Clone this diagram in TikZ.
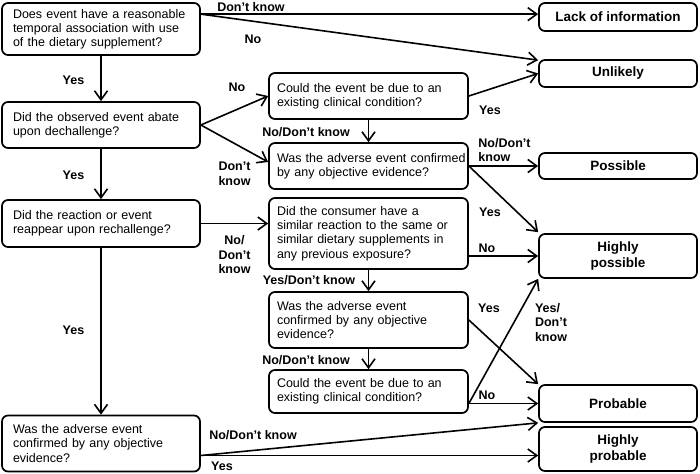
\documentclass[tikz,border=0pt]{standalone}
\usepackage{fontspec}
\setmainfont{Liberation Sans}
\usetikzlibrary{arrows.meta,calc}
\begin{document}
\begin{tikzpicture}[x=1pt,y=-1pt,
  box/.style={draw, line width=1.7pt, rounded corners=6pt, inner xsep=0pt, inner ysep=0pt,
    font=\fontsize{12.5}{14.2}\selectfont, align=left},
  lbox/.style={box, minimum width=198pt, text width=176pt},
  mbox/.style={box, minimum width=199pt, text width=183pt},
  rbox/.style={box, minimum width=158pt, align=center, font=\fontsize{13.5}{16.5}\selectfont\bfseries},
  lab/.style={font=\fontsize{12.5}{14.5}\selectfont\bfseries, inner sep=0pt, align=center},
  labl/.style={lab, align=left},
  arr/.style={line width=1.6pt, -{Straight Barb[length=9pt,width=13pt,line width=1.6pt]}}
]
\useasboundingbox (0,0) rectangle (700,473);

% left column
\node[lbox, minimum height=52pt] (L1) at (101,29) {Does event have a reasonable\\temporal association with use\\of the dietary supplement?};
\node[lbox, minimum height=46pt] (L2) at (101,125) {Did the observed event abate\\upon dechallenge?};
\node[lbox, minimum height=47pt] (L3) at (101,223.5) {Did the reaction or event\\reappear upon rechallenge?};
\node[lbox, minimum height=56pt] (L4) at (101,443.5) {Was the adverse event\\confirmed by any objective\\evidence?};

% middle column
\node[mbox, minimum height=46pt] (M1) at (368.5,96) {Could the event be due to an\\existing clinical condition?};
\node[mbox, minimum height=46pt] (M2) at (368.5,166) {\mbox{Was the adverse event confirmed}\\by any objective evidence?};
\node[mbox, minimum height=71pt] (M3) at (368.5,233.5) {Did the consumer have a\\similar reaction to the same or\\similar dietary supplements in\\any previous exposure?};
\node[mbox, minimum height=56pt] (M4) at (368.5,320) {Was the adverse event\\confirmed by any objective\\evidence?};
\node[mbox, minimum height=43pt] (M5) at (368.5,391.5) {Could the event be due to an\\existing clinical condition?};

% right column
\node[rbox, minimum height=28pt] (R1) at (618,17) {Lack of information};
\node[rbox, minimum height=27pt] (R2) at (618,73.5) {Unlikely};
\node[rbox, minimum height=26pt] (R3) at (618,166) {Possible};
\node[rbox, minimum height=44pt] (R4) at (618,256) {Highly\\possible};
\node[rbox, minimum height=37pt] (R5) at (618,403.5) {Probable};
\node[rbox, minimum height=44pt] (R6) at (618,449) {Highly\\probable};

% connectors
\coordinate (a1) at ([yshift=-12pt]L1.north east);
\draw[arr] (a1) -- (a1 -| R1.west);
\draw[arr] (a1) -- ([yshift=-1pt]R2.north west);
\draw[arr] (L1.south) -- (L2.north);

\draw[arr] (L2.east) -- (M1.west);
\draw[arr] (L2.east) -- ([yshift=4pt]M2.west);
\draw[arr] (M1.south) -- (M2.north);
\draw[arr] (M1.east) -- (R2.west);
\draw[arr] (M2.east) -- (M2.east -| R3.west);
\draw[arr] (M2.east) -- ([yshift=1pt]R4.north west);
\draw[arr] (L2.south) -- (L3.north);

\draw[arr] (L3.east) -- (L3.east -| M3.west);
\draw[arr] (M3.east |- R4.west) -- (R4.west);
\draw[arr] (M3.south) -- (M4.north);
\draw[arr] (M4.east) -- (R5.north west);
\draw[arr] (M4.south) -- (M5.north);
\coordinate (a5) at (M5.east |- R5.west);
\draw[arr] (a5) -- (R5.west);
\draw[arr] (a5) -- (R4.south west);
\draw[arr] (L3.south) -- (L4.north);

\coordinate (a4) at ([yshift=-12pt]L4.east);
\draw[arr] (a4) -- (R5.south west);
\draw[arr] (a4) -- (a4 -| R6.west);

% labels
\node[lab] (t1) at (251,7) {Don’t know};
\node[lab] (t2) at (253,39) {No};
\node[lab] (t3) at (73.5,80) {Yes};
\node[lab] (t4) at (237,87) {No};
\node[lab] (t5) at (306,132) {No/Don’t know};
\node[lab] (t6) at (234.5,174) {Don’t\\know};
\node[lab] (t7) at (490,110) {Yes};
\node[labl] (t8) at (504.5,150) {No/Don’t\\know};
\node[lab] (t9) at (490,212) {Yes};
\node[lab] (t10) at (73.5,175) {Yes};
\node[lab] (t11) at (234.5,255) {No/\\Don’t\\know};
\node[lab] (t12) at (487,248) {No};
\node[lab] (t13) at (309,280) {Yes/Don’t know};
\node[lab] (t14) at (489,308) {Yes};
\node[lab] (t15) at (306,360) {No/Don’t know};
\node[lab] (t16) at (487,395) {No};
\node[labl] (t17) at (551,322.5) {Yes/\\Don’t\\know};
\node[lab] (t18) at (73.5,330) {Yes};
\node[lab] (t19) at (253,435) {No/Don’t know};
\node[lab] (t20) at (222,466) {Yes};
\end{tikzpicture}
\end{document}
